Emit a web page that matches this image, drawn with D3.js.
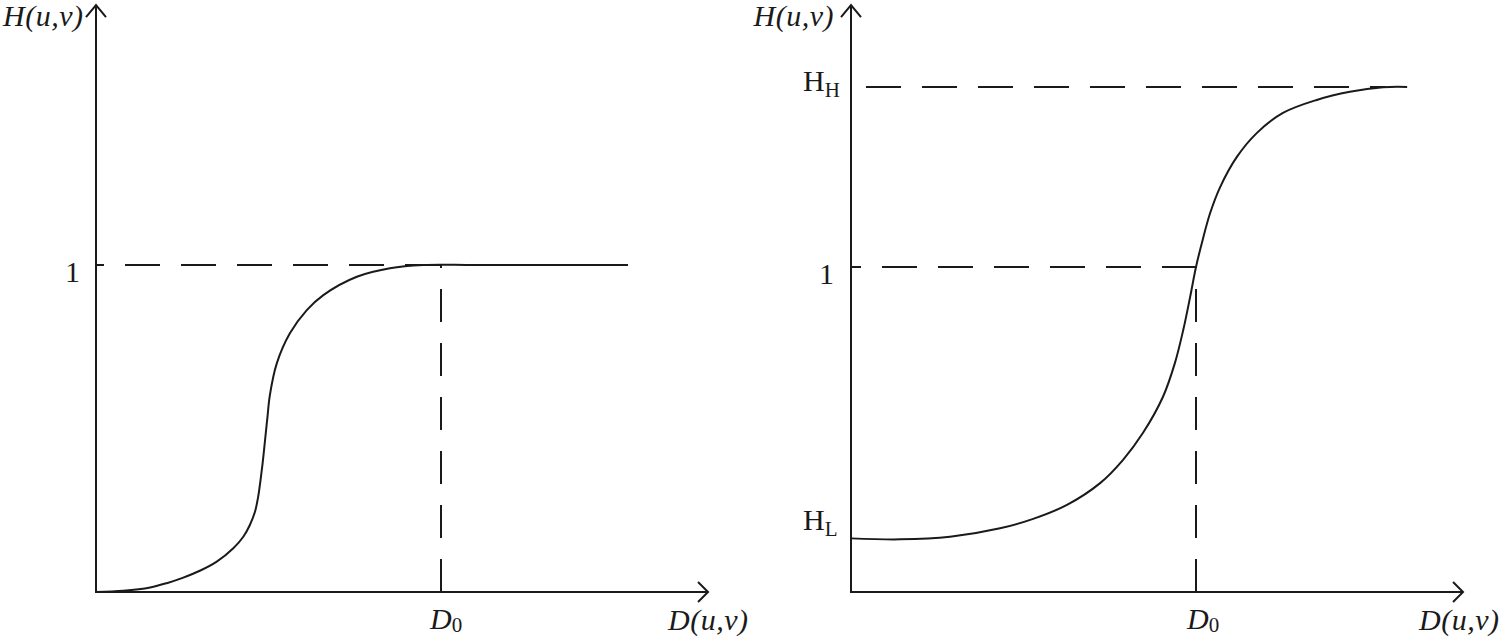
<!DOCTYPE html>
<html>
<head>
<meta charset="utf-8">
<script src="https://cdn.jsdelivr.net/npm/d3@7"></script>
<style>
  body { margin: 0; background: #fff; }
  svg { display: block; }
  text { font-family: "Liberation Serif", "Times New Roman", serif; fill: #1a1a1a; }
</style>
</head>
<body>
<svg id="chart" width="1504" height="639"></svg>
<script>
// curve values: [D / D0, H]
var lowPassCurve = [
  [0, 0], [0.079, 0.004], [0.157, 0.014], [0.205, 0.027], [0.253, 0.044],
  [0.301, 0.065], [0.350, 0.093], [0.398, 0.134], [0.427, 0.169], [0.446, 0.205],
  [0.461, 0.246], [0.470, 0.291], [0.477, 0.343], [0.483, 0.394], [0.488, 0.444],
  [0.493, 0.495], [0.497, 0.535], [0.504, 0.602], [0.524, 0.699], [0.562, 0.791],
  [0.611, 0.862], [0.659, 0.908], [0.756, 0.964], [0.852, 0.990], [0.949, 1.0],
  [1.1, 1.0], [1.542, 1.0]
];
var homoCurve = [
  [0, 0.165], [0.142, 0.162], [0.287, 0.170], [0.432, 0.196], [0.528, 0.225],
  [0.626, 0.268], [0.722, 0.335], [0.788, 0.406], [0.846, 0.489], [0.904, 0.600],
  [0.939, 0.705], [0.963, 0.806], [0.983, 0.908], [1.0, 1.0], [1.017, 1.074],
  [1.041, 1.166], [1.070, 1.246], [1.118, 1.338], [1.176, 1.412], [1.252, 1.474],
  [1.350, 1.514], [1.446, 1.539], [1.542, 1.553], [1.612, 1.554]
];
var D0 = 1;
var HL = 0.165, HH = 1.554;
var leftLevels = [1];           // dashed horizontal guides
var rightLevels = [1, HH];
var axisMax = { x: 1.774, yLeft: 1.795, yRight: 1.806 };

var svg = d3.select("#chart");
var ink = "#1a1a1a";

function panel(ox, pxPerH) {
  var x = d3.scaleLinear().domain([0, 1]).range([ox, ox + 345]);
  var y = d3.scaleLinear().domain([0, 1]).range([592, 592 - pxPerH]);
  var g = svg.append("g");
  return { x: x, y: y, g: g };
}

function drawPanel(p, curve, levels, yMax, dashEnds, dashOffsets) {
  var x = p.x, y = p.y, g = p.g;
  // axes
  g.append("line").attr("x1", x(0)).attr("y1", y(0)).attr("x2", x(axisMax.x)).attr("y2", y(0))
    .attr("stroke", ink).attr("stroke-width", 2);
  g.append("line").attr("x1", x(0)).attr("y1", y(0) + 1).attr("x2", x(0)).attr("y2", y(yMax))
    .attr("stroke", ink).attr("stroke-width", 2);
  // arrow heads
  var tx = x(axisMax.x), ty = y(0);
  g.append("polyline").attr("points", [[tx - 10, ty - 10], [tx, ty], [tx - 10, ty + 10]].join(" "))
    .attr("fill", "none").attr("stroke", ink).attr("stroke-width", 2);
  var ux = x(0), uy = y(yMax);
  g.append("polyline").attr("points", [[ux - 10, uy + 12], [ux, uy], [ux + 10, uy + 12]].join(" "))
    .attr("fill", "none").attr("stroke", ink).attr("stroke-width", 2);

  // dashed guides
  levels.forEach(function (lv, i) {
    g.append("line").attr("x1", x(0)).attr("y1", y(lv)).attr("x2", x(dashEnds[i])).attr("y2", y(lv))
      .attr("stroke", ink).attr("stroke-width", 2)
      .attr("stroke-dasharray", "35,21").attr("stroke-dashoffset", dashOffsets[i]);
  });
  g.append("line").attr("x1", x(D0)).attr("y1", y(0)).attr("x2", x(D0)).attr("y2", y(1))
    .attr("stroke", ink).attr("stroke-width", 2).attr("stroke-dasharray", "33,21");

  // curve
  var line = d3.line().x(function (d) { return x(d[0]); }).y(function (d) { return y(d[1]); })
    .curve(d3.curveCatmullRom.alpha(0.5));
  g.append("path").datum(curve).attr("d", line)
    .attr("fill", "none").attr("stroke", ink).attr("stroke-width", 2);
}

var left = panel(96, 327);
drawPanel(left, lowPassCurve, leftLevels, axisMax.yLeft, [1.0], [27]);

var right = panel(851, 325);
drawPanel(right, homoCurve, rightLevels, axisMax.yRight, [1.0, 1.55], [25, 41]);

// labels
function italicLabel(t, xPos, yPos, anchor) {
  svg.append("text").attr("x", xPos).attr("y", yPos).attr("text-anchor", anchor || "start")
    .style("font-size", "30px").style("font-style", "italic").style("letter-spacing", "0.5px").text(t);
}
italicLabel("H(u,v)", 3, 26);
italicLabel("H(u,v)", 834, 26, "end");
italicLabel("D(u,v)", 668, 630);
italicLabel("D(u,v)", 1419, 630);

function subLabel(main, sub, xPos, yPos, italic, drop) {
  var t = svg.append("text").attr("x", xPos).attr("y", yPos).style("font-size", "30px");
  t.append("tspan").style("font-style", italic ? "italic" : "normal").text(main);
  t.append("tspan").attr("dy", drop).style("font-size", "21px").text(sub);
}
subLabel("D", "0", left.x(D0) - 11, 629, true, 3);
subLabel("D", "0", right.x(D0) - 9, 629, true, 3);
subLabel("H", "H", 803, right.y(HH) + 4, false, 6);
subLabel("H", "L", 803, right.y(HL) - 8, false, 6);

svg.append("text").attr("x", 80).attr("y", left.y(1) + 17).attr("text-anchor", "end")
  .style("font-size", "30px").text("1");
svg.append("text").attr("x", 834).attr("y", right.y(1) + 17).attr("text-anchor", "end")
  .style("font-size", "30px").text("1");
</script>
</body>
</html>
